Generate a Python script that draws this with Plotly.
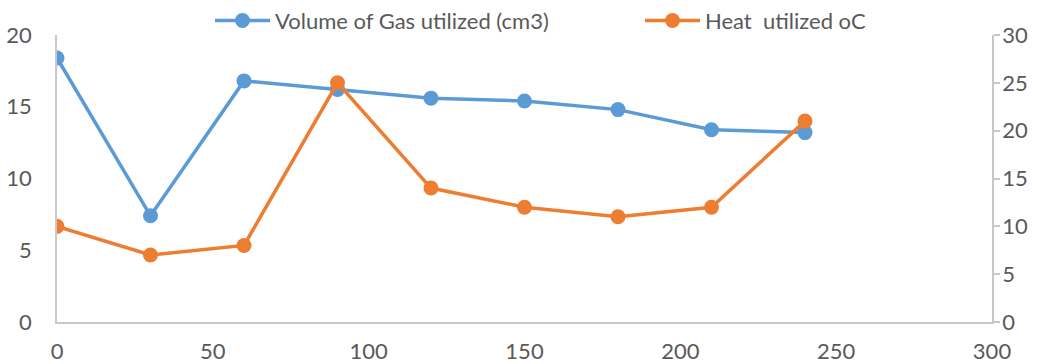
import plotly.graph_objects as go

# Sampling points (x axis)
x_values = [0, 30, 60, 90, 120, 150, 180, 210, 240]

# Series values
gas_volume = [18.4, 7.4, 16.8, 16.2, 15.6, 15.4, 14.8, 13.4, 13.2]   # left axis
heat_used = [10, 7, 8, 25, 14, 12, 11, 12, 21]                         # right axis

gas_name = "Volume of Gas utilized (cm3)"
heat_name = "Heat\u00a0 utilized oC"

BLUE = "#5B9BD5"
ORANGE = "#ED7D31"
TEXT = "#595959"
AXIS = "#C8C8C8"
FONT = "Lato, 'Liberation Sans', Arial, sans-serif"

fig = go.Figure()
fig.add_trace(go.Scatter(
    x=x_values, y=gas_volume, name=gas_name, mode="lines+markers",
    line=dict(color=BLUE, width=3.5), marker=dict(color=BLUE, size=15),
    yaxis="y",
))
fig.add_trace(go.Scatter(
    x=x_values, y=heat_used, name=heat_name, mode="lines+markers",
    line=dict(color=ORANGE, width=3.5), marker=dict(color=ORANGE, size=15),
    yaxis="y2",
))

fig.update_layout(
    width=1040, height=364,
    margin=dict(l=57, r=48, t=35, b=42, autoexpand=False),
    paper_bgcolor="white", plot_bgcolor="white",
    font=dict(family=FONT, size=22, color=TEXT),
    showlegend=True,
    legend=dict(
        orientation="h", xref="container", yref="container",
        x=210 / 1040, xanchor="left", y=1 - 20.7 / 364, yanchor="middle",
        itemwidth=55, entrywidth=360, entrywidthmode="pixels",
        font=dict(family=FONT, size=22, color=TEXT),
        bgcolor="rgba(0,0,0,0)",
    ),
    xaxis=dict(
        range=[0, 300], dtick=50, tick0=0, showgrid=False, zeroline=False,
        showline=True, linecolor=AXIS, linewidth=1.5, ticks="",
        ticklabelstandoff=9, automargin=False,
    ),
    yaxis=dict(
        range=[0, 20], dtick=5, tick0=0, showgrid=False, zeroline=False,
        showline=True, linecolor=AXIS, linewidth=1.5, ticks="",
        ticklabelstandoff=19, automargin=False,
    ),
    yaxis2=dict(
        range=[0, 30], dtick=5, tick0=0, overlaying="y", side="right",
        showgrid=False, zeroline=False, showline=True, linecolor=AXIS,
        linewidth=1.5, ticks="outside", ticklen=6, tickcolor=AXIS, tickwidth=1.5,
        ticklabelstandoff=-2, automargin=False,
    ),
)

fig.write_html("out.html")
